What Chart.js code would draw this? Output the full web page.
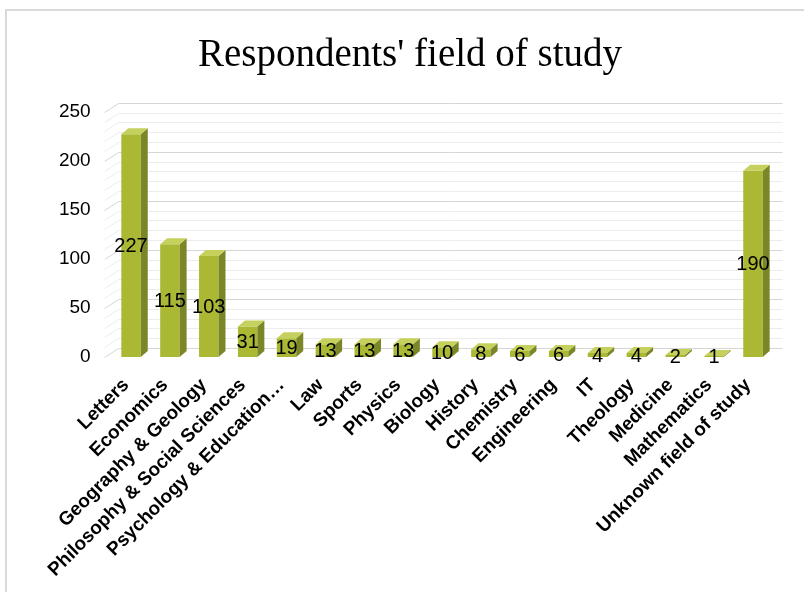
<!DOCTYPE html>
<html><head><meta charset="utf-8">
<script src="https://cdn.jsdelivr.net/npm/chart.js@4.4.1/dist/chart.umd.min.js"></script>
<style>
html,body{margin:0;padding:0;background:#fff;width:804px;height:592px;overflow:hidden}
#wrap{position:absolute;left:5px;top:9px;width:797px;height:581px;border-left:2px solid #d9d9d9;border-top:2px solid #d9d9d9;overflow:hidden;background:#fff}
canvas{display:block}
</style></head><body>
<div id="wrap"><canvas id="c" width="806" height="581"></canvas></div>
<script>
const categories = ["Letters","Economics","Geography & Geology","Philosophy & Social Sciences","Psychology & Education…","Law","Sports","Physics","Biology","History","Chemistry","Engineering","IT","Theology","Medicine","Mathematics","Unknown field of study"];
const counts = [227,115,103,31,19,13,13,13,10,8,6,6,4,4,2,1,190];
const yTicks = [0,50,100,150,200,250];
const minorStep = 10;
const chartTitle = "Respondents' field of study";

const DX = 7, DY = 6;          // 3D depth of bars
const WDX = 7, WDY = 9;        // back wall offset

const wallPlugin = {
  id: 'wall',
  beforeDatasetsDraw(chart) {
    const ctx = chart.ctx, y = chart.scales.y, a = chart.chartArea;
    ctx.save();
    ctx.lineWidth = 1;
    for (let v = y.min; v <= y.max; v += minorStep) {
      const yf = Math.round(y.getPixelForValue(v)) + 0.5;
      const major = yTicks.includes(v);
      ctx.strokeStyle = major ? '#d6d6d6' : '#ececec';
      ctx.beginPath();
      ctx.moveTo(a.left - WDX, yf);
      ctx.lineTo(a.left + WDX, yf - WDY);
      ctx.lineTo(a.right + 10, yf - WDY);
      ctx.stroke();
    }
    ctx.restore();
  }
};

const depthPlugin = {
  id: 'depth',
  afterDatasetsDraw(chart) {
    const ctx = chart.ctx;
    const meta = chart.getDatasetMeta(0);
    ctx.save();
    meta.data.forEach((el) => {
      const p = el.getProps(['x','y','base','width'], true);
      const l = p.x - p.width/2, r = p.x + p.width/2;
      ctx.fillStyle = '#7b8727';
      ctx.beginPath();
      ctx.moveTo(r, p.y); ctx.lineTo(r + DX, p.y - DY); ctx.lineTo(r + DX, p.base - DY); ctx.lineTo(r, p.base);
      ctx.closePath(); ctx.fill();
      ctx.fillStyle = '#c6d05c';
      ctx.beginPath();
      ctx.moveTo(l, p.y); ctx.lineTo(l + DX, p.y - DY); ctx.lineTo(r + DX, p.y - DY); ctx.lineTo(r, p.y);
      ctx.closePath(); ctx.fill();
    });
    ctx.fillStyle = '#000';
    ctx.font = '20px "Liberation Sans", Arial, sans-serif';
    ctx.textAlign = 'center';
    ctx.textBaseline = 'middle';
    meta.data.forEach((el, i) => {
      const p = el.getProps(['x','y','base'], true);
      ctx.fillText(String(chart.data.datasets[0].data[i]), p.x, (p.y + p.base) / 2 + 1);
    });
    ctx.restore();
  }
};

new Chart(document.getElementById('c'), {
  type: 'bar',
  data: {
    labels: categories,
    datasets: [{ data: counts, backgroundColor: '#abb834', borderWidth: 0, barPercentage: 0.5, categoryPercentage: 1 }]
  },
  options: {
    responsive: false,
    animation: false,
    devicePixelRatio: 1,
    layout: { padding: { top: 0, left: 40.6, right: 40.6, bottom: 0 } },
    plugins: {
      legend: { display: false },
      tooltip: { enabled: false },
      title: {
        display: true, text: chartTitle, color: '#000',
        font: { family: '"Liberation Serif", "Times New Roman", serif', size: 39, weight: 'normal' },
        padding: { top: 21, bottom: 33 }
      }
    },
    scales: {
      x: {
        grid: { display: false, drawTicks: false }, border: { display: false },
        ticks: { color: '#000', font: { family: '"Liberation Sans", Arial, sans-serif', size: 19, weight: 'bold' }, minRotation: 45, maxRotation: 45, autoSkip: false, padding: 17, labelOffset: -5 },
        afterFit(s) { s.height = 235; }
      },
      y: {
        min: 0, max: 250,
        grid: { display: false, drawTicks: false }, border: { display: false },
        ticks: { color: '#000', font: { family: '"Liberation Sans", Arial, sans-serif', size: 19 }, padding: 21 },
        afterBuildTicks(s) { s.ticks = yTicks.map(v => ({ value: v })); },
        afterFit(s) { s.width = 64; }
      }
    }
  },
  plugins: [wallPlugin, depthPlugin]
});
</script>
</body></html>
